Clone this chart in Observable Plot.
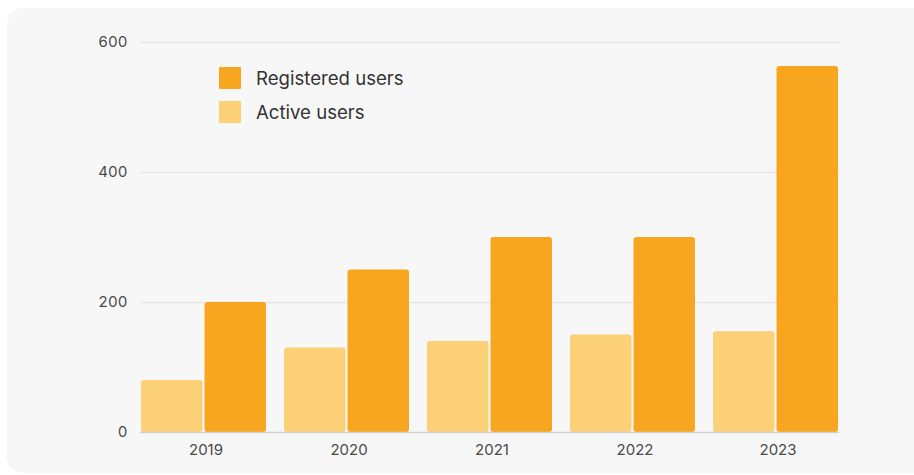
<!DOCTYPE html>
<html>
<head>
<meta charset="utf-8">
<script src="https://cdn.jsdelivr.net/npm/d3@7"></script>
<script src="https://cdn.jsdelivr.net/npm/@observablehq/plot@0.6"></script>
<style>
  html, body { margin: 0; padding: 0; background: #ffffff; }
  #wrap { position: relative; width: 914px; height: 475px; overflow: hidden; }
  #card { position: absolute; left: 7px; top: 8px; width: 940px; height: 465px; background: #f7f7f7; border-radius: 16px; }
  #chart { position: absolute; left: 0; top: 0; }
  #legend { position: absolute; left: 219px; top: 67px; font-family: Inter, sans-serif; font-size: 18.6px; color: #333; }
  .item { display: flex; align-items: center; height: 22px; margin-bottom: 12px; }
  .sw { width: 22px; height: 22px; margin-right: 15px; border-radius: 1px; }
</style>
</head>
<body>
<div id="wrap">
  <div id="card"></div>
  <div id="chart"></div>
  <div id="legend"></div>
</div>
<script>
const years = ["2019", "2020", "2021", "2022", "2023"];
const series = ["Active users", "Registered users"];
const activeUsers = [80, 130, 140, 150, 155];
const registeredUsers = [200, 250, 300, 300, 563];
const yTicks = [0, 200, 400, 600];
const colors = ["#fcd077", "#f8a51f"];
const legendOrder = ["Registered users", "Active users"];

const activeData = years.map((y, i) => ({year: y, series: series[0], value: activeUsers[i]}));
const registeredData = years.map((y, i) => ({year: y, series: series[1], value: registeredUsers[i]}));

// band width of each year group is ~125px; each bar takes half minus a small gap
const half = 63.5;

const chart = Plot.plot({
  width: 914,
  height: 475,
  marginLeft: 140,
  marginRight: 75,
  marginTop: 42,
  marginBottom: 43,
  style: {fontFamily: "Inter, sans-serif", fontSize: "15px", background: "transparent", color: "#4a4a4a"},
  x: {domain: years, paddingInner: 0.126, paddingOuter: 0, label: null},
  y: {domain: [0, 600], label: null},
  color: {domain: series, range: colors},
  marks: [
    Plot.ruleY(yTicks.filter(d => d > 0), {stroke: "#e5e5e5", strokeWidth: 1.5}),
    Plot.axisY({ticks: yTicks, tickSize: 0, tickPadding: 13, label: null, fontSize: 15}),
    Plot.axisX({tickSize: 0, tickPadding: 12, label: null, fontSize: 15, dx: 2}),
    Plot.barY(activeData, {x: "year", y: "value", fill: "series", rx: 3, insetRight: half}),
    Plot.barY(registeredData, {x: "year", y: "value", fill: "series", rx: 3, insetLeft: half}),
    Plot.ruleY([0], {stroke: "#d2d2d2", strokeWidth: 1.5})
  ]
});
document.getElementById("chart").appendChild(chart);

const legend = document.getElementById("legend");
legendOrder.forEach(name => {
  const item = document.createElement("div");
  item.className = "item";
  const sw = document.createElement("div");
  sw.className = "sw";
  sw.style.background = colors[series.indexOf(name)];
  const label = document.createElement("span");
  label.textContent = name;
  item.appendChild(sw);
  item.appendChild(label);
  legend.appendChild(item);
});
</script>
</body>
</html>
